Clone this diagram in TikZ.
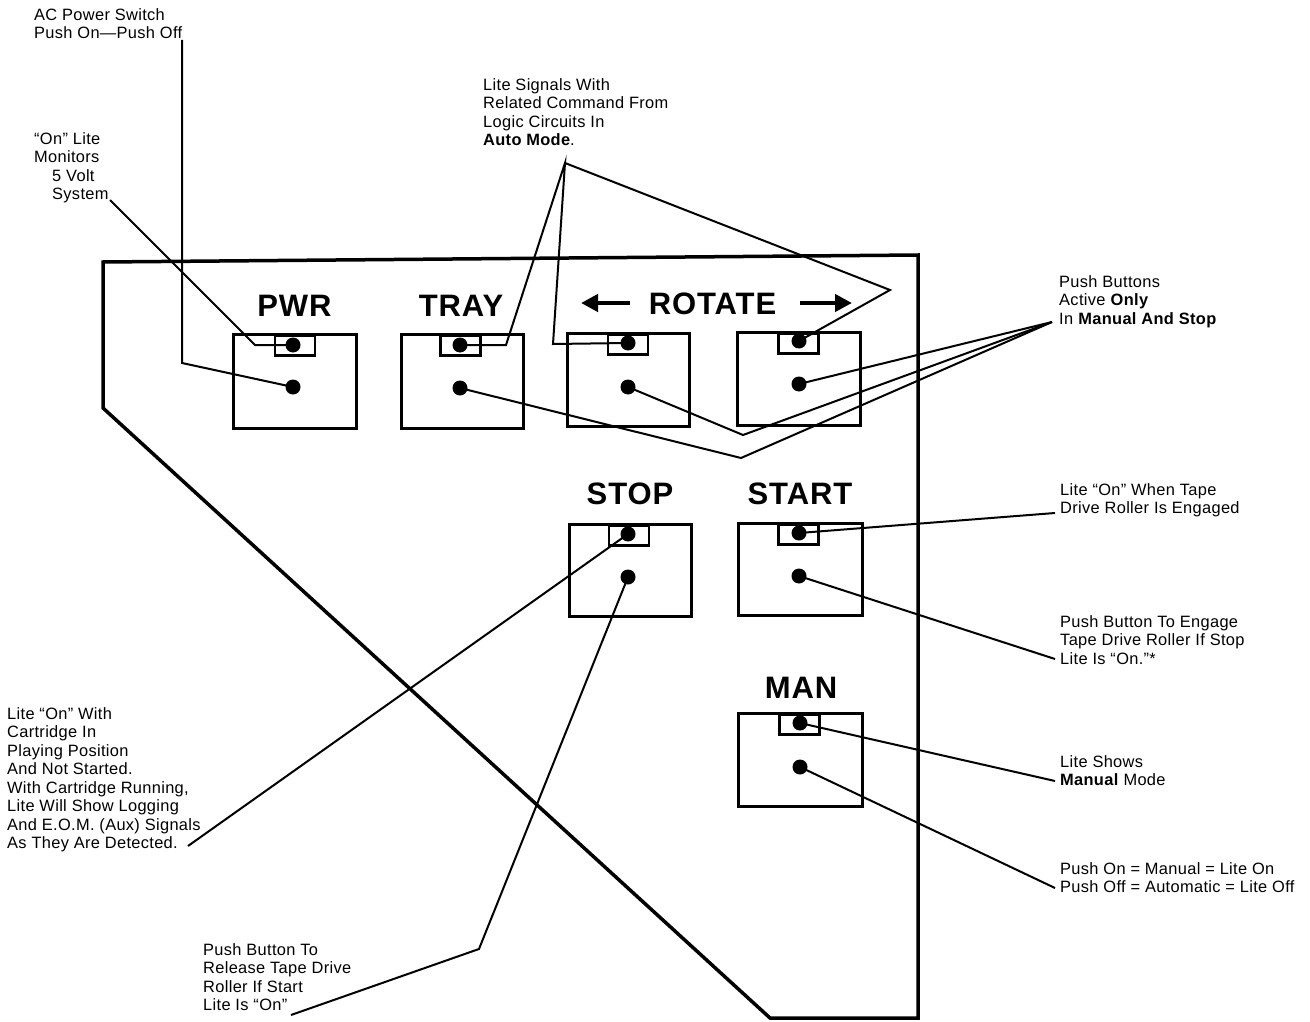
\documentclass[tikz,border=0pt]{standalone}
\usepackage{fontspec}
\setmainfont[LetterSpace=2]{Liberation Sans}
\newfontfamily\headfont[LetterSpace=3]{Liberation Sans}
\usetikzlibrary{arrows.meta}
\begin{document}
\begin{tikzpicture}[x=1pt,y=-1pt,
  lbl/.style={font=\fontsize{16.4}{18.5}\selectfont, align=left, inner sep=0, anchor=north west},
  head/.style={font=\headfont\bfseries\fontsize{31}{31}\selectfont, inner sep=0, anchor=base},
  box/.style={draw, line width=3pt, inner sep=0},
  lamp/.style={draw, line width=2.5pt, minimum width=40pt, minimum height=20pt, anchor=north, inner sep=0},
  dot/.style={circle, fill, minimum size=15pt, inner sep=0},
  conn/.style={line width=2pt, line join=miter},
  panel/.style={line width=3.5pt, line join=miter},
  rarrow/.style={line width=4.5pt, -{Triangle[length=17pt,width=17pt]}}]
\useasboundingbox (0,0) rectangle (1310,1022);

% panel outline
\draw[panel] (103,262) -- (918,255) -- (918,1018) -- (770,1018) -- (103,408) -- cycle;

% buttons
\node[box, minimum width=123pt, minimum height=94pt] (pwr) at (294.5,381) {};
\node[box, minimum width=122pt, minimum height=94pt] (tray) at (462,381) {};
\node[box, minimum width=122pt, minimum height=93pt] (rl) at (628,379.5) {};
\node[box, minimum width=123pt, minimum height=93pt] (rr) at (798.5,378.5) {};
\node[box, minimum width=122pt, minimum height=92pt] (stop) at (630,570) {};
\node[box, minimum width=124pt, minimum height=92pt] (start) at (800,569) {};
\node[box, minimum width=124pt, minimum height=93pt] (man) at (800,759.5) {};

\node[lamp] (pwrR) at (295,334) {};
\node[lamp] (trayR) at (460.5,334) {};
\node[lamp] (rlR) at (628,333) {};
\node[lamp] (rrR) at (798.5,332) {};
\node[lamp] (stopR) at (629,524) {};
\node[lamp] (startR) at (798.5,523) {};
\node[lamp] (manR) at (799.5,713) {};

\node[dot] (pwrL) at (293,345) {};
\node[dot] (trayL) at (460,345) {};
\node[dot] (rlL) at (628,343) {};
\node[dot] (rrL) at (799,341) {};
\node[dot] (stopL) at (628,534) {};
\node[dot] (startL) at (799,533) {};
\node[dot] (manL) at (800,723) {};

\node[dot] (pwrB) at (293,387) {};
\node[dot] (trayB) at (460,388) {};
\node[dot] (rlB) at (628,387) {};
\node[dot] (rrB) at (799,384) {};
\node[dot] (stopB) at (628,577) {};
\node[dot] (startB) at (799,576) {};
\node[dot] (manB) at (800,767) {};

% headings
\node[head] (hpwr) at (294.5,316) {PWR};
\node[head] (htray) at (461,316) {TRAY};
\node[head] (hrot) at (712.5,314) {ROTATE};
\node[head] (hstop) at (630,504) {STOP};
\node[head] (hstart) at (800,504) {START};
\node[head] (hman) at (801,698) {MAN};
\coordinate (la1) at (630,303); \coordinate (la2) at (581,303);
\coordinate (ra1) at (800,303); \coordinate (ra2) at (852,303);
\draw[rarrow] (la1) -- (la2);
\draw[rarrow] (ra1) -- (ra2);

% labels
\node[lbl] (tAC) at (34,8) {AC Power Switch\\Push On---Push Off};
\node[lbl] (tOn) at (34,132) {“On” Lite\\Monitors\\\hspace*{18pt}5 Volt\\\hspace*{18pt}System};
\node[lbl] (tSig) at (483,78) {Lite Signals With\\Related Command From\\Logic Circuits In\\\textbf{Auto Mode}.};
\node[lbl] (tPB) at (1059,275) {Push Buttons\\Active \textbf{Only}\\In \textbf{Manual And Stop}};
\node[lbl] (tTape) at (1060,483) {Lite “On” When Tape\\Drive Roller Is Engaged};
\node[lbl] (tEng) at (1060,615) {Push Button To Engage\\Tape Drive Roller If Stop\\Lite Is “On.”*};
\node[lbl] (tMan) at (1060,755) {Lite Shows\\\textbf{Manual} Mode};
\node[lbl] (tPush) at (1060,862) {Push On = Manual = Lite On\\Push Off = Automatic = Lite Off};
\node[lbl] (tCart) at (7,707) {Lite “On” With\\Cartridge In\\Playing Position\\And Not Started.\\With Cartridge Running,\\Lite Will Show Logging\\And E.O.M. (Aux) Signals\\As They Are Detected.};
\node[lbl] (tRel) at (203,943) {Push Button To\\Release Tape Drive\\Roller If Start\\Lite Is “On”};

% connector end points
\coordinate (cAC) at (182,40);
\coordinate (cOn) at (110,200);
\coordinate (apex) at (565,163);
\coordinate (cPB) at (1052,322);
\coordinate (cTape) at (1055,513);
\coordinate (cEng) at (1055,659);
\coordinate (cMan) at (1055,781);
\coordinate (cPush) at (1055,888);
\coordinate (cCart) at (188,846);
\coordinate (cRel) at (291,1015);

% connectors
\draw[conn] (cAC) -- (182,363) -- (pwrB.center);
\draw[conn] (cOn) -- (255,345) -- (pwrL.center);
\draw[conn] (trayL.center) -- (506,345) -- (apex) -- (553,344) -- (rlL.center);
\draw[conn] (apex) -- (890,290) -- (rrL.center);
\draw[conn] (trayB.center) -- (741,458) -- (cPB);
\draw[conn] (rlB.center) -- (743,435) -- (cPB);
\draw[conn] (rrB.center) -- (cPB);
\draw[conn] (startL.center) -- (cTape);
\draw[conn] (startB.center) -- (cEng);
\draw[conn] (manL.center) -- (cMan);
\draw[conn] (manB.center) -- (cPush);
\draw[conn] (stopL.center) -- (cCart);
\draw[conn] (stopB.center) -- (479,949) -- (cRel);
\end{tikzpicture}
\end{document}
